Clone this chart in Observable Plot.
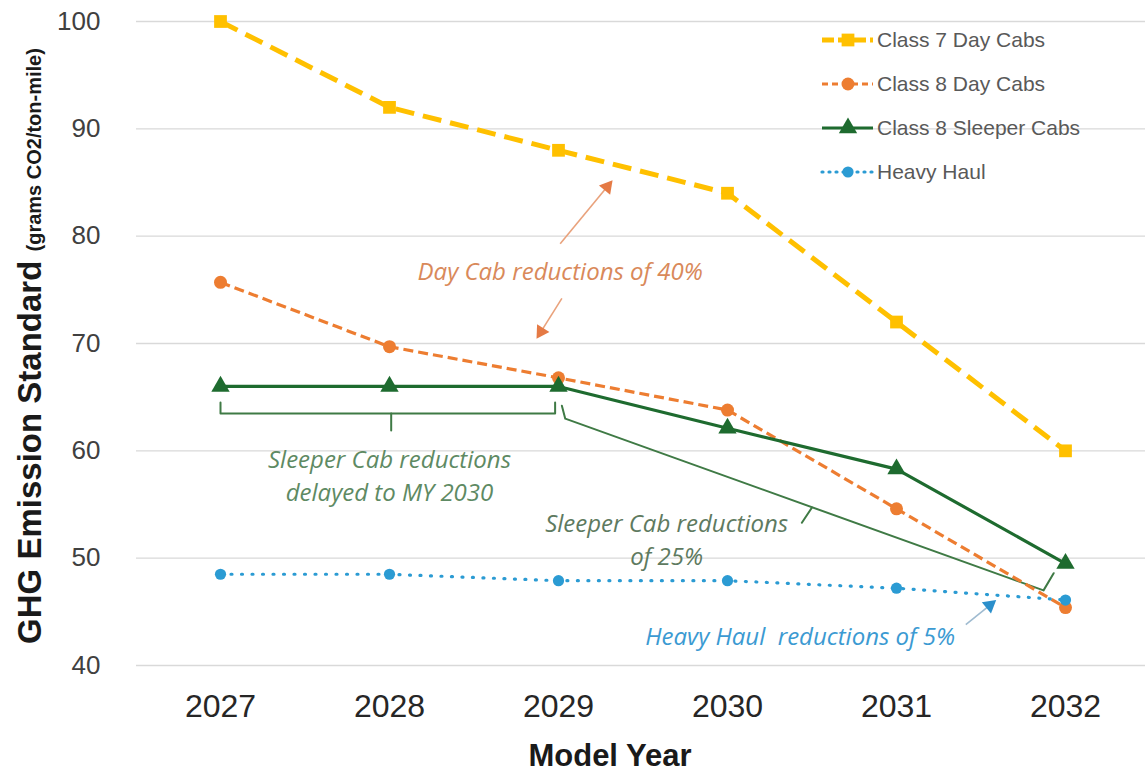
<!DOCTYPE html>
<html>
<head>
<meta charset="utf-8">
<script src="https://cdn.jsdelivr.net/npm/d3@7"></script>
<script src="https://cdn.jsdelivr.net/npm/@observablehq/plot@0.6"></script>
<style>
  body { margin: 0; background: #fff; }
  #chart svg { display: block; }
</style>
</head>
<body>
<div id="chart"></div>
<script>
// Model years and GHG standards (grams CO2 / ton-mile) per vehicle category
const years = [2027, 2028, 2029, 2030, 2031, 2032];
const class7DayCabs = [100, 92, 88, 84, 72, 60];
const class8DayCabs = [75.7, 69.7, 66.8, 63.8, 54.6, 45.4];
const class8SleeperCabs = [66, 66, 66, 62.1, 58.3, 49.5];
const heavyHaul = [48.5, 48.5, 47.9, 47.9, 47.2, 46.1];
const seriesNames = ["Class 7 Day Cabs", "Class 8 Day Cabs", "Class 8 Sleeper Cabs", "Heavy Haul"];
const seriesValues = [class7DayCabs, class8DayCabs, class8SleeperCabs, heavyHaul];
const yTicks = [40, 50, 60, 70, 80, 90, 100];

// Annotation texts
const dayCabNote = "Day Cab reductions of 40%";
const sleeperDelayNote = ["Sleeper Cab reductions", "delayed to MY 2030"];
const sleeperCutNote = ["Sleeper Cab reductions", "of 25%"];
const heavyHaulNote = "Heavy Haul  reductions of 5%";

// Line and marker styling per series
const seriesStyle = {
  "Class 7 Day Cabs":     {color: "#FFC000", width: 5,   dash: "19,9",   legendDash: "12,4",  cap: "butt",  symbol: "square",   r: 7.2},
  "Class 8 Day Cabs":     {color: "#ED7D31", width: 3.2, dash: "10,5",   legendDash: "6,4",   cap: "butt",  symbol: "circle",   r: 6.5},
  "Class 8 Sleeper Cabs": {color: "#1E6B2F", width: 3.2, dash: null,     legendDash: null,    cap: "butt",  symbol: "triangle", r: 6.8},
  "Heavy Haul":           {color: "#2B9BD3", width: 3.2, dash: "1,9.5",  legendDash: "1,6",   cap: "round", symbol: "circle",   r: 5.6}
};

const rows = seriesNames.flatMap((name, i) =>
  years.map((year, j) => ({series: name, year, value: seriesValues[i][j]}))
);

const xOptions = {type: "linear", domain: [2027, 2032], range: [220, 1065]};
const yOptions = {type: "linear", domain: [40, 100], range: [665, 21]};
const xScale = Plot.scale({x: xOptions});
const yScale = Plot.scale({y: yOptions});

// Annotation geometry, in data units
const dayCabArrows = [
  {x1: 2029.01, y1: 79.3, x2: 2029.32, y2: 85.2},
  {x1: 2029.02, y1: 74.2, x2: 2028.87, y2: 70.45}
];
const heavyHaulArrows = [
  {x1: 2031.41, y1: 43.8, x2: 2031.59, y2: 46.1}
];
const delayBracket = [
  [{x: 2027, y: 64.5}, {x: 2027, y: 63.48}, {x: 2028.98, y: 63.48}, {x: 2028.98, y: 64.5}],
  [{x: 2028.01, y: 63.48}, {x: 2028.01, y: 61.9}]
];
const cutBracket = [
  [{x: 2029.02, y: 64.2}, {x: 2029.04, y: 63.0}, {x: 2031.87, y: 47.0}, {x: 2031.93, y: 48.6}],
  [{x: 2030.5, y: 54.72}, {x: 2030.44, y: 53.3}]
];

// Arrow heads: a filled triangle whose tip sits on the arrow end
const headR = 5.4;
const tipOffset = 2 * Math.sqrt((Math.PI * headR * headR) / (Math.sqrt(3) * 3));
function arrowParts(a) {
  const px1 = xScale.apply(a.x1), py1 = yScale.apply(a.y1);
  const px2 = xScale.apply(a.x2), py2 = yScale.apply(a.y2);
  const dx = px2 - px1, dy = py2 - py1, len = Math.hypot(dx, dy);
  const hx = px2 - dx / len * tipOffset, hy = py2 - dy / len * tipOffset;
  return {
    x1: a.x1, y1: a.y1,
    x2: xScale.invert(hx), y2: yScale.invert(hy),
    rotate: Math.atan2(dx, -dy) * 180 / Math.PI
  };
}
const dayCabArrowParts = dayCabArrows.map(arrowParts);
const heavyArrowParts = heavyHaulArrows.map(arrowParts);

const bracketSegments = (paths, id) => paths.flatMap((p, k) => p.map(pt => ({...pt, path: id + k})));

const noteFont = "'Open Sans', 'DejaVu Sans', sans-serif";
const noteSize = 24;
const marks = [
  Plot.ruleY(yTicks, {stroke: "#d9d9d9", strokeWidth: 1.3}),
  Plot.axisY({ticks: yTicks, tickSize: 0, tickPadding: 36, fontSize: 26, fill: "#404040", label: null}),
  Plot.axisX({ticks: years, tickFormat: d => String(d), tickSize: 0, tickPadding: 29, fontSize: 32, fill: "#262626", label: null})
];

// Bracket annotations for the sleeper cab series
marks.push(
  Plot.line(bracketSegments(delayBracket, "a"), {x: "x", y: "y", z: "path", stroke: "#3F7A45", strokeWidth: 2, curve: "linear"}),
  Plot.line(bracketSegments(cutBracket, "b"), {x: "x", y: "y", z: "path", stroke: "#3F7A45", strokeWidth: 2, curve: "linear"})
);

// Data series
seriesNames.forEach(name => {
  const s = seriesStyle[name];
  const data = rows.filter(d => d.series === name);
  marks.push(Plot.line(data, {
    x: "year", y: "value", stroke: s.color, strokeWidth: s.width,
    strokeDasharray: s.dash, strokeLinecap: s.cap, strokeLinejoin: "round"
  }));
});
seriesNames.forEach(name => {
  const s = seriesStyle[name];
  const data = rows.filter(d => d.series === name);
  marks.push(Plot.dot(data, {x: "year", y: "value", symbol: s.symbol, r: s.r, fill: s.color, stroke: "none"}));
});

// Arrows
marks.push(
  Plot.link(dayCabArrowParts, {x1: "x1", y1: "y1", x2: "x2", y2: "y2", stroke: "#E9A27C", strokeWidth: 1.6}),
  Plot.dot(dayCabArrowParts, {x: "x2", y: "y2", rotate: "rotate", symbol: "triangle", r: headR, fill: "#E57A45", stroke: "none"}),
  Plot.link(heavyArrowParts, {x1: "x1", y1: "y1", x2: "x2", y2: "y2", stroke: "#9FBBD0", strokeWidth: 1.6}),
  Plot.dot(heavyArrowParts, {x: "x2", y: "y2", rotate: "rotate", symbol: "triangle", r: headR, fill: "#2B8FCB", stroke: "none"})
);

// Annotation labels
marks.push(
  Plot.text([dayCabNote], {x: 2029.01, y: 76.6, text: d => d, fill: "#D9895A", fontSize: noteSize, fontStyle: "italic", fontFamily: noteFont}),
  Plot.text(sleeperDelayNote, {x: 2028.0, y: (d, i) => [59.1, 56.0][i], text: d => d, fill: "#5E8A63", fontSize: noteSize, fontStyle: "italic", fontFamily: noteFont}),
  Plot.text(sleeperCutNote, {x: 2029.64, y: (d, i) => [53.2, 50.05][i], text: d => d, fill: "#5E7A60", fontSize: noteSize, fontStyle: "italic", fontFamily: noteFont}),
  Plot.text([heavyHaulNote], {x: 2030.43, y: 42.6, text: d => d, fill: "#3B9AD2", fontSize: noteSize, fontStyle: "italic", fontFamily: noteFont})
);

const chart = Plot.plot({
  width: 1145,
  height: 772,
  marginLeft: 136,
  marginRight: 0,
  marginTop: 21,
  marginBottom: 107,
  x: xOptions,
  y: yOptions,
  style: {fontFamily: "'Liberation Sans', Arial, sans-serif", background: "#fff"},
  marks
});

const svg = d3.select(chart);

// Axis titles
svg.append("text")
  .attr("x", 610).attr("y", 766)
  .attr("text-anchor", "middle")
  .attr("font-family", "'Liberation Sans', Arial, sans-serif")
  .attr("font-weight", "bold").attr("font-size", 31).attr("fill", "#1a1a1a")
  .text("Model Year");

const yTitle = svg.append("text")
  .attr("transform", "translate(41,346) rotate(-90)")
  .attr("text-anchor", "middle")
  .attr("font-family", "'Liberation Sans', Arial, sans-serif")
  .attr("font-weight", "bold").attr("fill", "#1a1a1a");
yTitle.append("tspan").attr("font-size", 33).text("GHG Emission Standard ");
yTitle.append("tspan").attr("font-size", 20).text("(grams CO2/ton-mile)");

// Legend
const legend = svg.append("g").attr("transform", "translate(822,40)");
seriesNames.forEach((name, i) => {
  const s = seriesStyle[name];
  const row = legend.append("g").attr("transform", `translate(0,${i * 44})`);
  row.append("line")
    .attr("x1", 0).attr("x2", 51).attr("y1", 0).attr("y2", 0)
    .attr("stroke", s.color).attr("stroke-width", s.width)
    .attr("stroke-dasharray", s.legendDash)
    .attr("stroke-linecap", s.cap);
  const sym = {square: d3.symbolSquare, circle: d3.symbolCircle, triangle: d3.symbolTriangle}[s.symbol];
  row.append("path")
    .attr("transform", "translate(26,0)")
    .attr("d", d3.symbol(sym, Math.PI * s.r * s.r)())
    .attr("fill", s.color);
  row.append("text")
    .attr("x", 55).attr("y", 0).attr("dy", "0.35em")
    .attr("text-anchor", "start")
    .attr("font-family", "'Liberation Sans', Arial, sans-serif")
    .attr("font-size", 21).attr("fill", "#595959")
    .text(name);
});

document.getElementById("chart").append(chart);
</script>
</body>
</html>
